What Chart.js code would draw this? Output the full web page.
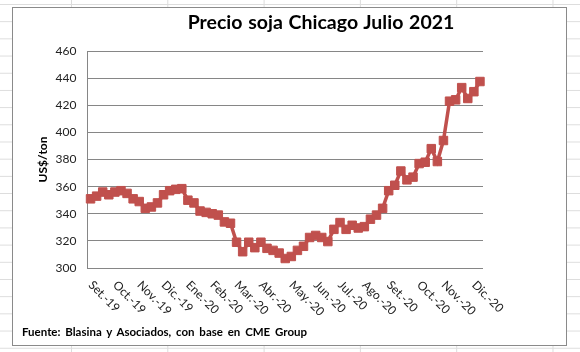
<!DOCTYPE html>
<html>
<head>
<meta charset="utf-8">
<script src="https://cdn.jsdelivr.net/npm/chart.js@4"></script>
<style>
html, body { margin: 0; padding: 0; }
body {
  width: 580px; height: 352px; position: relative; overflow: hidden;
  background-color: #fff;
  background-image: linear-gradient(#dcdcdc 1px, transparent 1px), linear-gradient(90deg, #dcdcdc 1px, transparent 1px);
  background-size: 100% 17.2px, 96.3px 100%;
  background-position: 0 4px, 71px 0;
}
#box { position: absolute; left: 12px; top: 7px; width: 553px; height: 337px; border: 1px solid #8a8a8a; background: #fff; }
#title { position: absolute; left: 121px; width: 400px; top: 10px; text-align: center; font: bold 19.5px Lato; color: #000; word-spacing: 1px; }
#source { position: absolute; left: 22px; top: 325px; font: bold 11.5px Lato; color: #000; white-space: nowrap; word-spacing: 2px; }
canvas { position: absolute; left: 0; top: 0; }
</style>
</head>
<body>
<div id="box"></div>
<canvas id="chart" width="580" height="352"></canvas>
<div id="title">Precio soja Chicago Julio 2021</div>
<div id="source">Fuente: Blasina y Asociados, con base en CME Group</div>
<script>
// weekly prices, US$/ton
const prices = [
  351, 353, 356, 354, 356, 357, 355, 351, 349, 344,
  345, 348, 354, 357, 358, 358.5, 350, 348, 342, 341,
  340, 339, 334, 333, 319, 312, 319, 315, 319, 314.5,
  313, 311, 307, 308.5, 313, 316, 322.5, 324, 322.5, 319.5,
  328.5, 333.5, 328.5, 331.5, 329.5, 330.5, 336, 339, 344, 357,
  361, 371.5, 365, 367, 377, 378, 388, 378.5, 394, 423,
  424, 433, 425, 430, 437.5
]

// month labels and the week they sit on
const months = ['Set.-19','Oct.-19','Nov.-19','Dic.-19','Ene.-20','Feb.-20','Mar.-20','Abr.-20',
  'May.-20','Jun.-20','Jul.-20','Ago.-20','Set.-20','Oct.-20','Nov.-20','Dic.-20']
const monthIdx = [0,4,8,12,16,20,24,28,33,37,41,45,49,54,58,63]

const yTicks = [300,320,340,360,380,400,420,440,460]

const labels = prices.map((_, i) => {
  const k = monthIdx.indexOf(i)
  return k >= 0 ? months[k] : ''
})

// labels slanting down to the right, like the excel original
const xLabels = {
  id: 'xLabels',
  afterDraw(chart) {
    const {ctx, scales: {x, y}} = chart
    ctx.save()
    ctx.font = '12px Lato'
    ctx.fillStyle = '#222'
    ctx.textAlign = 'left'
    ctx.textBaseline = 'middle'
    monthIdx.forEach((idx, k) => {
      const px = x.getPixelForValue(idx)
      ctx.save()
      ctx.translate(px, y.bottom + 15)
      ctx.rotate(Math.PI / 4)
      ctx.fillText(months[k], 0, 0)
      ctx.restore()
    })
    ctx.restore()
  }
}

const red = '#c0504d'
new Chart(document.getElementById('chart'), {
  type: 'line',
  data: {
    labels,
    datasets: [{
      data: prices,
      borderColor: red,
      backgroundColor: red,
      borderWidth: 3.5,
      pointStyle: 'rect',
      pointRadius: 6,
      pointBorderWidth: 1,
      pointBackgroundColor: red,
      pointBorderColor: red,
      tension: 0
    }]
  },
  options: {
    responsive: false,
    animation: false,
    events: [],
    layout: { padding: { left: 20, right: 97, top: 51, bottom: 84 } },
    plugins: { legend: { display: false }, tooltip: { enabled: false } },
    scales: {
      x: {
        offset: true,
        grid: { display: false },
        border: { display: false },
        ticks: { display: false, autoSkip: false },
        afterFit: s => { s.height = 0 }
      },
      y: {
        min: 300, max: 460,
        afterBuildTicks: s => { s.ticks = yTicks.map(v => ({value: v})) },
        afterFit: s => { s.width = 67.5 },
        grid: { color: '#868686', lineWidth: 1, drawTicks: false },
        border: { color: '#868686', width: 1 },
        ticks: { padding: 11, color: '#222', font: { family: 'Lato', size: 12 } },
        title: {
          display: true, text: 'US$/ton', color: '#000',
          font: { family: 'Lato', size: 12, weight: 'bold' },
          padding: { top: 16, bottom: 0 }
        }
      }
    }
  },
  plugins: [xLabels]
})
</script>
</body>
</html>
